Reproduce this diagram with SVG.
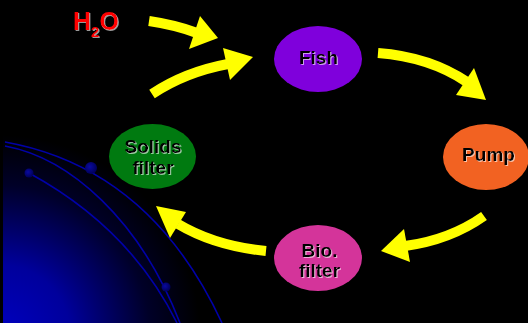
<svg xmlns="http://www.w3.org/2000/svg" width="528" height="323" viewBox="0 0 528 323">
<defs>
<radialGradient id="planet" gradientUnits="userSpaceOnUse" cx="0" cy="335" r="200">
<stop offset="0" stop-color="#0000c0"/>
<stop offset="0.35" stop-color="#00009c"/>
<stop offset="0.75" stop-color="#000028"/>
<stop offset="1" stop-color="#000000"/>
</radialGradient>
<radialGradient id="dot" cx="0.4" cy="0.4" r="0.6">
<stop offset="0" stop-color="#0a0aa0"/>
<stop offset="1" stop-color="#00005a"/>
</radialGradient>
<filter id="shadow" x="-10%" y="-10%" width="130%" height="130%">
<feFlood flood-color="#ffffff" flood-opacity="0.6" result="c"/>
<feComposite in="c" in2="SourceAlpha" operator="in" result="s"/>
<feOffset in="s" dx="1.2" dy="1.2" result="o"/>
<feMerge><feMergeNode in="o"/><feMergeNode in="SourceGraphic"/></feMerge>
</filter>
<style>
.lbl{font-family:"Liberation Sans",Arial,sans-serif;font-weight:bold;font-size:19px;text-anchor:middle;fill:#000000;filter:url(#shadow)}
.orbit{fill:none;stroke:#0000a8;stroke-width:1.6}
.shaft{fill:none;stroke:#ffff00;stroke-width:10}
.head{fill:#ffff00}
</style>
</defs>
<rect width="528" height="323" fill="#000000"/>
<g id="planet-bg">
<rect x="3" y="120" width="260" height="203" fill="url(#planet)"/>
<path class="orbit" d="M5,142 Q150,168 222,323"/>
<path class="orbit" d="M5,146 C70,158 140,220 180,323"/>
<path class="orbit" d="M29,173 Q130,228 177,323"/>
<circle cx="91" cy="168" r="6" fill="url(#dot)"/>
<circle cx="29" cy="173" r="4.5" fill="url(#dot)"/>
<circle cx="166" cy="287" r="4.5" fill="url(#dot)"/>
</g>
<g id="connectors">
<path class="shaft" d="M149,21 Q176,25 197,33"/>
<polygon class="head" points="218,38 200,16 189,49"/>
<path class="shaft" d="M152,94 Q185,72 228,64"/>
<polygon class="head" points="253,57 223,48 230,80"/>
<path class="shaft" d="M378,53 Q430,57 467,82"/>
<polygon class="head" points="486,100 474,68 456,95"/>
<path class="shaft" d="M484,216 Q450,240 405,246"/>
<polygon class="head" points="381,251 404,229 410,262"/>
<path class="shaft" d="M266,251 Q215,246 178,224"/>
<polygon class="head" points="156,206 186,212 170,238"/>
</g>
<g id="h2o">
<text x="73" y="30" font-family="'Liberation Sans',Arial,sans-serif" font-weight="bold" font-size="25" fill="#ff0000" filter="url(#shadow)">H<tspan font-size="15" dy="7">2</tspan><tspan dy="-7">O</tspan></text>
</g>
<g id="fish">
<ellipse cx="318" cy="59" rx="44" ry="33" fill="#7f00dc"/>
<text class="lbl" x="318.5" y="63.5">Fish</text>
</g>
<g id="pump">
<ellipse cx="486" cy="157" rx="43" ry="33" fill="#f26222"/>
<text class="lbl" x="488.5" y="160.5">Pump</text>
</g>
<g id="bio-filter">
<ellipse cx="318" cy="258" rx="44" ry="33" fill="#d4349a"/>
<text class="lbl" x="319.5" y="256.5">Bio.<tspan x="319.5" dy="20">filter</tspan></text>
</g>
<g id="solids-filter">
<ellipse cx="152.5" cy="156.5" rx="43.5" ry="32.5" fill="#007a10"/>
<text class="lbl" x="153" y="152.5">Solids<tspan x="153" dy="21">filter</tspan></text>
</g>
</svg>
